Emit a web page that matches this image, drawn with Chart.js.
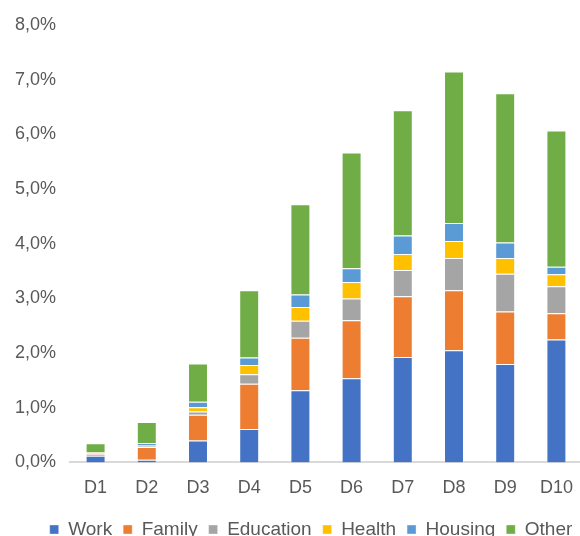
<!DOCTYPE html>
<html>
<head>
<meta charset="utf-8">
<script src="https://cdn.jsdelivr.net/npm/chart.js@4"></script>
<style>
  html, body { margin: 0; padding: 0; background: #fff; overflow: hidden; }
  #wrap { width: 582px; height: 536px; }
</style>
</head>
<body>
<div id="wrap"><canvas id="barchart" width="582" height="536"></canvas></div>
<script>
// deciles
const categories = ["D1", "D2", "D3", "D4", "D5", "D6", "D7", "D8", "D9", "D10"];

// shares in %
const work      = [0.12, 0.05, 0.40, 0.61, 1.32, 1.54, 1.93, 2.05, 1.80, 2.25];
const family    = [0.04, 0.23, 0.47, 0.83, 0.96, 1.06, 1.11, 1.10, 0.96, 0.48];
const education = [0.01, 0.02, 0.06, 0.17, 0.31, 0.40, 0.48, 0.59, 0.69, 0.49];
const health    = [0.005, 0.02, 0.08, 0.17, 0.25, 0.30, 0.29, 0.31, 0.29, 0.22];
const housing   = [0.005, 0.03, 0.10, 0.14, 0.23, 0.25, 0.34, 0.33, 0.28, 0.14];
const other     = [0.17, 0.39, 0.70, 1.23, 1.65, 2.12, 2.29, 2.77, 2.73, 2.49];

const seriesNames = ["Work", "Family", "Education", "Health", "Housing", "Other"];
const seriesData = [work, family, education, health, housing, other];
const colors = ["#4472c4", "#ed7d31", "#a5a5a5", "#ffc000", "#5b9bd5", "#70ad47"];

const font = { family: "'Liberation Sans', Arial, sans-serif", size: 18 };

// the legend sits a bit right of the canvas centre
const shiftLegend = {
  id: "shiftLegend",
  afterLayout(chart) {
    chart.legend.left += 20;
    chart.legend.right += 20;
  }
};

const ctx = document.getElementById("barchart");
new Chart(ctx, {
  type: "bar",
  data: {
    labels: categories,
    datasets: seriesNames.map((name, i) => ({
      label: name,
      data: seriesData[i],
      backgroundColor: colors[i],
      borderColor: "rgba(255,255,255,0.35)",
      borderWidth: 1,
      categoryPercentage: 1,
      barPercentage: 0.39
    }))
  },
  plugins: [shiftLegend],
  options: {
    responsive: false,
    animation: false,
    layout: { padding: { top: 25, left: 0, right: 0, bottom: -13 } },
    plugins: {
      tooltip: { enabled: false },
      legend: {
        position: "bottom",
        labels: {
          font: { family: font.family, size: 19 },
          color: "#595959",
          boxWidth: 9,
          boxHeight: 9,
          padding: 11
        }
      }
    },
    scales: {
      x: {
        stacked: true,
        grid: { display: false },
        border: { color: "#d9d9d9", width: 2 },
        afterFit: (scale) => { scale.height += 3; },
        ticks: { font: font, color: "#595959", padding: 7 }
      },
      y: {
        stacked: true,
        min: 0,
        max: 8,
        grid: { display: false },
        border: { display: false },
        afterFit: (scale) => { scale.width = 70; },
        ticks: {
          stepSize: 1,
          font: font,
          color: "#595959",
          padding: 6,
          callback: (v) => v.toFixed(1).replace(".", ",") + "%"
        }
      }
    }
  }
});
</script>
</body>
</html>
